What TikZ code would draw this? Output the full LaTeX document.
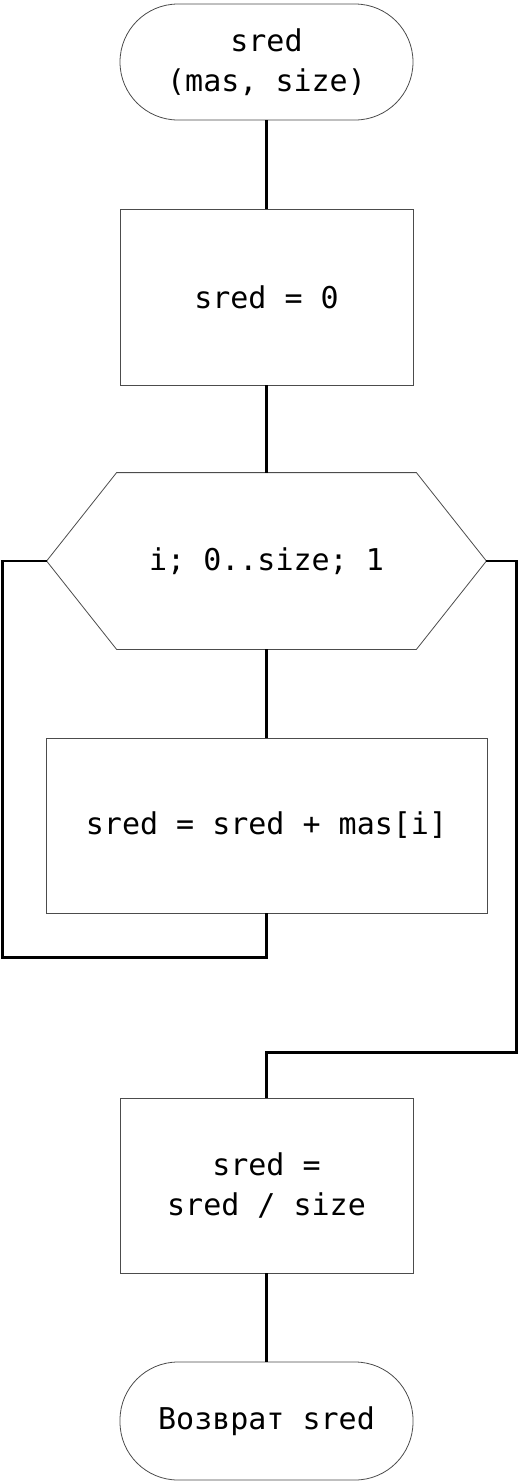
\documentclass[tikz,border=0pt]{standalone}
\usepackage{fontspec}
\setmonofont{DejaVu Sans Mono}
\begin{document}
\begin{tikzpicture}[x=1pt,y=-1pt,
  shp/.style={draw=black!70,line width=0.8pt,fill=white,inner sep=0pt,align=center,
    font=\ttfamily\fontsize{30}{40}\selectfont},
  term/.style={shp,rectangle,rounded corners=58pt,minimum width=293pt,minimum height=116pt},
  proc/.style={shp,rectangle,minimum width=293pt,minimum height=176pt},
  conn/.style={line width=2.5pt,black,line join=miter}]
\useasboundingbox (0,0) rectangle (519,1484);
\node[term] (t1) at (266.5,62) {sred\\(mas, size)};
\node[proc] (b1) at (266.5,297) {sred = 0};
\node[shp,draw=none,fill=none,minimum width=439pt,minimum height=176pt] (loop) at (266.5,561) {i; 0..size; 1};
\node[proc,minimum width=441pt,minimum height=175pt] (b2) at (266.5,825.5) {sred = sred + mas[i]};
\node[proc,minimum height=175pt] (b3) at (266.5,1185.5) {sred =\\sred / size};
\node[term,minimum height=118pt] (t2) at (266.5,1421) {Возврат sred};
\draw[draw=black!70,line width=0.8pt]
  (loop.west) -- ([xshift=70pt]loop.north west) -- ([xshift=-70pt]loop.north east)
  -- (loop.east) -- ([xshift=-70pt]loop.south east) -- ([xshift=70pt]loop.south west) -- cycle;
\draw[conn] (t1.south) -- (b1.north);
\draw[conn] (b1.south) -- (loop.north);
\draw[conn] (loop.south) -- (b2.north);
\draw[conn] (b2.south) -- ++(0,44) -| ([xshift=-44pt]loop.west) -- (loop.west);
\draw[conn] (loop.east) -- ++(30,0) coordinate (r) |- ([yshift=45pt]b3.north) -- (b3.north);
\draw[conn] (b3.south) -- (t2.north);
\end{tikzpicture}
\end{document}
